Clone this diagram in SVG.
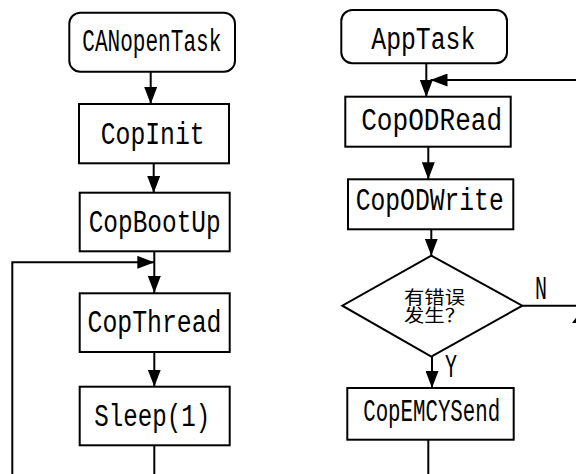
<svg xmlns="http://www.w3.org/2000/svg" width="576" height="474" viewBox="0 0 576 474">
  <style>
    .box { fill: #fff; stroke: #000; stroke-width: 2; }
    .wire { fill: none; stroke: #000; stroke-width: 2; }
    .lbl { font-family: "Liberation Mono", "DejaVu Sans Mono", monospace; font-size: 31px; fill: #000; text-anchor: middle; }
    .cjk { font-family: "Noto Sans CJK SC", sans-serif; font-size: 18px; fill: #000; }
    .yn { font-family: "Liberation Mono", monospace; font-size: 34px; fill: #000; }
  </style>
  <defs>
    <marker id="arrow" markerUnits="userSpaceOnUse" markerWidth="17" markerHeight="13" refX="17" refY="6.5" orient="auto">
      <path d="M0,0 L17,6.5 L0,13 z" fill="#000"/>
    </marker>
  </defs>

  <rect width="576" height="474" fill="#fff"/>

  <!-- connectors -->
  <g id="connectors">
    <line class="wire" x1="150.7" y1="72" x2="150.7" y2="104" marker-end="url(#arrow)"/>
    <line class="wire" x1="153.7" y1="163" x2="153.7" y2="193" marker-end="url(#arrow)"/>
    <line class="wire" x1="154.3" y1="251" x2="154.3" y2="293" marker-end="url(#arrow)"/>
    <path class="wire" d="M12.3,476 V262.3 H154.3" marker-end="url(#arrow)"/>
    <line class="wire" x1="154.3" y1="352" x2="154.3" y2="386.7" marker-end="url(#arrow)"/>
    <line class="wire" x1="154.3" y1="445" x2="154.3" y2="476"/>

    <line class="wire" x1="426.3" y1="63" x2="426.3" y2="97" marker-end="url(#arrow)"/>
    <line class="wire" x1="580" y1="80" x2="430.5" y2="80" marker-end="url(#arrow)"/>
    <line class="wire" x1="428.3" y1="146.7" x2="428.3" y2="179.3" marker-end="url(#arrow)"/>
    <line class="wire" x1="431.3" y1="229.3" x2="431.3" y2="255.7" marker-end="url(#arrow)"/>
    <line class="wire" x1="432" y1="356.7" x2="432" y2="388" marker-end="url(#arrow)"/>
    <line class="wire" x1="522.3" y1="305.7" x2="580" y2="305.7"/>
    <polygon points="578,315 572,323 590,323" fill="#000"/>
    <line class="wire" x1="428.3" y1="439.7" x2="428.3" y2="476"/>
    <text class="yn" x="535" y="298.5" textLength="12" lengthAdjust="spacingAndGlyphs">N</text>
    <text class="yn" x="445" y="376.5" textLength="12" lengthAdjust="spacingAndGlyphs">Y</text>
  </g>

  <!-- left flow -->
  <g id="canopen-task">
    <rect class="box" x="69.3" y="12.7" width="165.7" height="59" rx="11"/>
    <text class="lbl" x="151.8" y="50.7" textLength="139" lengthAdjust="spacingAndGlyphs">CANopenTask</text>
  </g>
  <g id="cop-init">
    <rect class="box" x="79" y="104" width="150" height="59.3"/>
    <text class="lbl" x="152.7" y="144.3" textLength="104" lengthAdjust="spacingAndGlyphs">CopInit</text>
  </g>
  <g id="cop-bootup">
    <rect class="box" x="79.7" y="192.7" width="150" height="58.6"/>
    <text class="lbl" x="154.7" y="232.3" textLength="132" lengthAdjust="spacingAndGlyphs">CopBootUp</text>
  </g>
  <g id="cop-thread">
    <rect class="box" x="79.7" y="293.3" width="150" height="58.7"/>
    <text class="lbl" x="154.5" y="332.3" textLength="134" lengthAdjust="spacingAndGlyphs">CopThread</text>
  </g>
  <g id="sleep">
    <rect class="box" x="79.7" y="386.7" width="150" height="58.6"/>
    <text class="lbl" x="152.2" y="426.3" textLength="116" lengthAdjust="spacingAndGlyphs">Sleep(1)</text>
  </g>

  <!-- right flow -->
  <g id="app-task">
    <rect class="box" x="341.3" y="10" width="165.7" height="53.3" rx="11"/>
    <text class="lbl" x="423.3" y="49.3" textLength="104" lengthAdjust="spacingAndGlyphs">AppTask</text>
  </g>
  <g id="cop-od-read">
    <rect class="box" x="345.3" y="96.7" width="165.4" height="50"/>
    <text class="lbl" x="431.7" y="130" textLength="141" lengthAdjust="spacingAndGlyphs">CopODRead</text>
  </g>
  <g id="cop-od-write">
    <rect class="box" x="348" y="179.3" width="165.3" height="50"/>
    <text class="lbl" x="429.7" y="210" textLength="148" lengthAdjust="spacingAndGlyphs">CopODWrite</text>
  </g>
  <g id="error-check">
    <polygon class="box" points="431.3,255.7 522.3,305.7 431.3,356.7 342.3,305.7"/>
    <text class="cjk"><tspan x="404" y="304" textLength="61" lengthAdjust="spacingAndGlyphs">有错误</tspan><tspan x="404" y="322" textLength="61" lengthAdjust="spacingAndGlyphs">发生？</tspan></text>
  </g>
  <g id="cop-emcy-send">
    <rect class="box" x="347.3" y="388" width="166.4" height="51.7"/>
    <text class="lbl" x="431.7" y="420.7" textLength="137" lengthAdjust="spacingAndGlyphs">CopEMCYSend</text>
  </g>
</svg>
